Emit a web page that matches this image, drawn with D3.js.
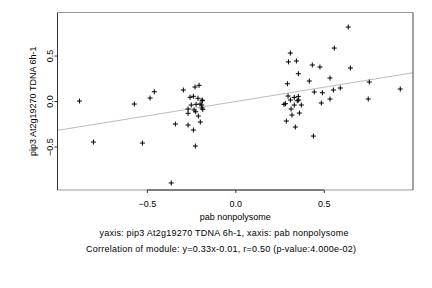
<!DOCTYPE html>
<html>
<head>
<meta charset="utf-8">
<script src="https://cdn.jsdelivr.net/npm/d3@7"></script>
<style>
  body { margin: 0; background: #fff; }
  svg { font-family: "Liberation Sans", Arial, sans-serif; }
  .tick-label { font-size: 9px; fill: #000; }
  .axis-label { font-size: 9px; fill: #000; }
</style>
</head>
<body>
<svg id="chart" width="432" height="288"></svg>
<script>
// Data
const xVals = [
  -0.881, -0.802, -0.571, -0.525, -0.482, -0.458, -0.362, -0.339, -0.294,
  -0.267, -0.267, -0.267, -0.256, -0.249, -0.237, -0.237, -0.233, -0.226,
  -0.228, -0.224, -0.222, -0.211, -0.205, -0.209, -0.198, -0.199, -0.190,
  -0.186, -0.188, -0.184, -0.188,
  0.311, 0.300, 0.345, 0.356, 0.294, 0.298, 0.283, 0.275, 0.311, 0.333,
  0.356, 0.350, 0.358, 0.315, 0.333, 0.373, 0.320, 0.362, 0.288, 0.339,
  0.441, 0.418, 0.435, 0.478, 0.446, 0.492, 0.486, 0.535, 0.535, 0.554,
  0.559, 0.593, 0.638, 0.650, 0.757, 0.751, 0.932
];
const yVals = [
  0.000, -0.451, -0.033, -0.462, 0.033, 0.102, -0.901, -0.253, 0.121,
  -0.264, -0.135, -0.088, 0.041, -0.044, 0.052, -0.319, -0.099, -0.495,
  0.154, -0.118, -0.036, 0.030, 0.173, -0.165, -0.231, -0.033, -0.044,
  0.003, 0.011, -0.091, -0.077,
  0.527, 0.430, 0.440, 0.300, 0.190, 0.055, -0.029, -0.037, 0.011, 0.040,
  0.051, 0.003, 0.011, -0.088, -0.044, -0.044, -0.154, -0.132, -0.220, -0.286,
  -0.385, 0.220, 0.396, 0.374, 0.099, 0.091, -0.022, 0.253, 0.022, 0.121,
  0.582, 0.143, 0.813, 0.363, 0.209, 0.022, 0.132
];
const xTicks = [-0.5, 0.0, 0.5];
const yTicks = [-0.5, 0.0, 0.5];
const fitSlope = 0.315;
const fitIntercept = -0.006;

const xTitle = 'pab nonpolysome';
const yTitle = 'pip3 At2g19270 TDNA 6h-1';
const subtitle1 = 'yaxis: pip3 At2g19270 TDNA 6h-1, xaxis: pab nonpolysome';
const subtitle2 = 'Correlation of module: y=0.33x-0.01, r=0.50 (p-value:4.000e-02)';

const svg = d3.select('#chart');
const box = { left: 57.5, right: 413, top: 12.5, bottom: 190 };

const x = d3.scaleLinear().domain([-1.005, 1.004]).range([box.left, box.right]);
const y = d3.scaleLinear().domain([-0.978, 0.973]).range([box.bottom, box.top]);

// Regression line
const xd = x.domain();
svg.append('line')
  .attr('x1', x(xd[0])).attr('y1', y(fitSlope * xd[0] + fitIntercept))
  .attr('x2', x(xd[1])).attr('y2', y(fitSlope * xd[1] + fitIntercept))
  .attr('stroke', '#bdbdbd')
  .attr('stroke-width', 1);

// Points as "+" marks
const pts = xVals.map((v, i) => ({ x: v, y: yVals[i] }));
const s = 2.5;
svg.append('g').selectAll('path')
  .data(pts)
  .enter()
  .append('path')
  .attr('d', d => {
    const px = x(d.x), py = y(d.y);
    return `M${px - s},${py}H${px + s}M${px},${py - s}V${py + s}`;
  })
  .attr('stroke', '#000')
  .attr('stroke-width', 1)
  .attr('fill', 'none');

// Box
svg.append('line').attr('x1', box.left).attr('x2', box.right)
  .attr('y1', box.top).attr('y2', box.top).attr('stroke', '#999');
svg.append('line').attr('x1', box.left).attr('x2', box.right)
  .attr('y1', box.bottom).attr('y2', box.bottom).attr('stroke', '#999');
svg.append('line').attr('x1', box.left).attr('x2', box.left)
  .attr('y1', box.top).attr('y2', box.bottom).attr('stroke', '#333');
svg.append('line').attr('x1', box.right).attr('x2', box.right)
  .attr('y1', box.top).attr('y2', box.bottom).attr('stroke', '#444');

// X axis
const xAxis = d3.axisBottom(x).tickValues(xTicks).tickSize(3).tickPadding(6)
  .tickFormat(d3.format('.1f'));
const gx = svg.append('g')
  .attr('transform', `translate(0,${box.bottom})`)
  .call(xAxis);
gx.select('.domain')
  .attr('d', `M${x(xTicks[0])},0H${x(xTicks[xTicks.length - 1])}`)
  .attr('stroke', '#333');
gx.selectAll('.tick line').attr('stroke', '#333');
gx.selectAll('text')
  .attr('class', 'tick-label')
  .attr('font-family', null)
  .attr('font-size', null)
  .attr('dy', null)
  .attr('y', 16.5);

// Y axis
const yAxis = d3.axisLeft(y).tickValues(yTicks).tickSize(3)
  .tickFormat(d3.format('.1f'));
const gy = svg.append('g')
  .attr('transform', `translate(${box.left},0)`)
  .call(yAxis);
gy.select('.domain')
  .attr('d', `M0,${y(yTicks[0])}V${y(yTicks[yTicks.length - 1])}`)
  .attr('stroke', '#333');
gy.selectAll('.tick line').attr('stroke', '#333');
gy.selectAll('text')
  .attr('class', 'tick-label')
  .attr('font-family', null)
  .attr('font-size', null)
  .attr('x', null)
  .attr('dy', null)
  .attr('text-anchor', 'middle')
  .attr('transform', 'translate(-4.5,0) rotate(-90)');

// Titles
svg.append('text')
  .attr('class', 'axis-label')
  .attr('x', x(0))
  .attr('y', 220)
  .attr('text-anchor', 'middle')
  .text(xTitle);

svg.append('text')
  .attr('class', 'axis-label')
  .attr('transform', `translate(36,${(box.top + box.bottom) / 2}) rotate(-90)`)
  .attr('text-anchor', 'middle')
  .text(yTitle);

svg.append('text')
  .attr('class', 'axis-label')
  .attr('x', 99.5)
  .attr('y', 236)
  .attr('textLength', 249)
  .attr('lengthAdjust', 'spacing')
  .text(subtitle1);

svg.append('text')
  .attr('class', 'axis-label')
  .attr('x', 86)
  .attr('y', 251.5)
  .attr('textLength', 270)
  .attr('lengthAdjust', 'spacing')
  .text(subtitle2);
</script>
</body>
</html>
